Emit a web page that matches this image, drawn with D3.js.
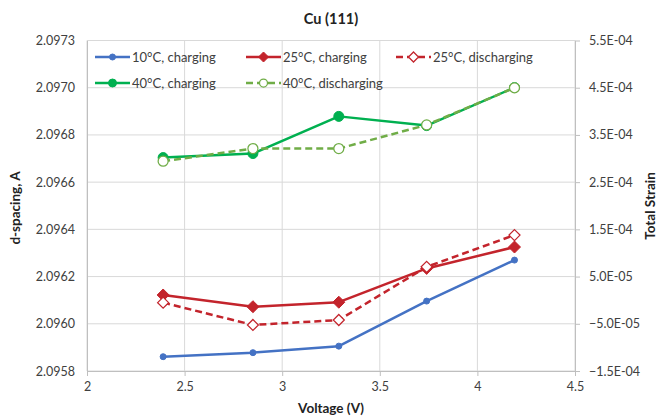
<!DOCTYPE html>
<html>
<head>
<meta charset="utf-8">
<script src="https://cdn.jsdelivr.net/npm/d3@7"></script>
<style>
  html, body { margin: 0; padding: 0; background: #fff; }
  svg { display: block; font-family: Lato, "Open Sans", sans-serif; }
</style>
</head>
<body>
<svg id="chart" width="658" height="418"></svg>
<script>
// Cu (111) d-spacing vs. voltage, with equivalent total strain on the right axis
const voltage = [2.39, 2.85, 3.29, 3.74, 4.19];

const d10Charge    = [2.095853, 2.095871, 2.095900, 2.096100, 2.096282];
const d25Charge    = [2.096127, 2.096075, 2.096095, 2.096245, 2.096340];
const d25Discharge = [2.096093, 2.095994, 2.096016, 2.096252, 2.096393];
const d40Charge    = [2.096737, 2.096755, 2.096920, 2.096879, 2.097048];
const d40Discharge = [2.096721, 2.096777, 2.096777, 2.096882, 2.097047];

// Unstrained reference spacing used to convert d-spacing to strain
const dRef = 2.096104;

const xTicks = [2, 2.5, 3, 3.5, 4, 4.5];
const strainTicks = [-1.5e-4, -5e-5, 5e-5, 1.5e-4, 2.5e-4, 3.5e-4, 4.5e-4, 5.5e-4];

const seriesNames = ["10°C, charging", "25°C, charging", "25°C, discharging",
                     "40°C, charging", "40°C, discharging"];

const series = [
  { name: seriesNames[0], values: d10Charge,    color: "#4472C4", dash: null,  marker: "circle",  r: 3,   open: false },
  { name: seriesNames[1], values: d25Charge,    color: "#C3242C", dash: null,  marker: "diamond", r: 6,   open: false },
  { name: seriesNames[2], values: d25Discharge, color: "#C3242C", dash: "7,4", marker: "diamond", r: 5.5, open: true  },
  { name: seriesNames[3], values: d40Charge,    color: "#00B050", dash: null,  marker: "circle",  r: 5,   open: false },
  { name: seriesNames[4], values: d40Discharge, color: "#70AD47", dash: "7,4", marker: "circle",  r: 5,   open: true  }
];

const svg = d3.select("#chart");
const plot = { left: 87, right: 575, top: 40.5, bottom: 371 };

const x = d3.scaleLinear().domain([2, 4.5]).range([plot.left, plot.right]);
const yStrain = d3.scaleLinear()
  .domain([strainTicks[0], strainTicks[strainTicks.length - 1]])
  .range([plot.bottom, plot.top]);
const y = d3.scaleLinear()
  .domain(yStrain.domain().map(s => dRef * (1 + s)))
  .range([plot.bottom, plot.top]);

// Excel-style scientific notation, e.g. 5.0E-05
function sci(v) {
  const [m, e] = d3.format(".1e")(v).split("e");
  const n = +e;
  return m + "E" + (n < 0 ? "-" : "+") + String(Math.abs(n)).padStart(2, "0");
}

const gridColor = "#d9d9d9";
const axisColor = "#bfbfbf";
const textColor = "#404040";

// Gridlines
svg.append("g").selectAll("line").data(strainTicks).join("line")
  .attr("x1", plot.left).attr("x2", plot.right)
  .attr("y1", d => yStrain(d)).attr("y2", d => yStrain(d))
  .attr("stroke", gridColor).attr("stroke-width", 1);
svg.append("g").selectAll("line").data(xTicks).join("line")
  .attr("x1", d => x(d)).attr("x2", d => x(d))
  .attr("y1", plot.top).attr("y2", plot.bottom)
  .attr("stroke", gridColor).attr("stroke-width", 1);

// Bottom axis
const xAxis = svg.append("g")
  .attr("transform", `translate(0,${plot.bottom})`)
  .call(d3.axisBottom(x).tickValues(xTicks).tickFormat(d3.format("")).tickSize(5).tickSizeOuter(0));
xAxis.select(".domain").attr("stroke", axisColor);
xAxis.selectAll(".tick line").attr("stroke", axisColor);
xAxis.selectAll(".tick text").attr("fill", textColor).attr("font-size", 12.5)
  .attr("font-family", "Lato, sans-serif").attr("dy", "0.95em");

// Left axis (d-spacing)
const yAxisL = svg.append("g")
  .attr("transform", `translate(${plot.left},0)`)
  .call(d3.axisLeft(y).tickValues(strainTicks.map(s => dRef * (1 + s)))
    .tickFormat(d3.format(".4f")).tickSize(0).tickPadding(12));
yAxisL.select(".domain").attr("stroke", axisColor);
yAxisL.selectAll(".tick text").attr("fill", textColor).attr("font-size", 12.5)
  .attr("font-family", "Lato, sans-serif");

// Right axis (strain)
const yAxisR = svg.append("g")
  .attr("transform", `translate(${plot.right},0)`)
  .call(d3.axisRight(yStrain).tickValues(strainTicks).tickFormat(sci)
    .tickSize(5).tickSizeOuter(0).tickPadding(9));
yAxisR.select(".domain").attr("stroke", axisColor);
yAxisR.selectAll(".tick line").attr("stroke", axisColor);
yAxisR.selectAll(".tick text").attr("fill", textColor).attr("font-size", 12.5)
  .attr("font-family", "Lato, sans-serif");

// Titles
svg.append("text").attr("x", 331).attr("y", 24).attr("text-anchor", "middle")
  .attr("font-size", 14.5).attr("font-weight", "bold").attr("fill", "#222")
  .text("Cu (111)");
svg.append("text").attr("x", 331).attr("y", 413).attr("text-anchor", "middle")
  .attr("font-size", 13.5).attr("font-weight", "bold").attr("fill", "#222")
  .text("Voltage (V)");
svg.append("text").attr("transform", "translate(20,208) rotate(-90)")
  .attr("text-anchor", "middle").attr("font-size", 13.5).attr("font-weight", "bold")
  .attr("fill", "#222").text("d-spacing, A");
svg.append("text").attr("transform", "translate(655,206) rotate(-90)")
  .attr("text-anchor", "middle").attr("font-size", 13.5).attr("font-weight", "bold")
  .attr("fill", "#222").text("Total Strain");

// Marker drawing helper
function drawMarker(g, s, cx, cy) {
  const fill = s.open ? "#fff" : s.color;
  if (s.marker === "circle") {
    g.append("circle").attr("cx", cx).attr("cy", cy).attr("r", s.r)
      .attr("fill", fill).attr("stroke", s.color).attr("stroke-width", s.open ? 1.25 : 1);
  } else {
    const r = s.r;
    g.append("path")
      .attr("d", `M${cx},${cy - r}L${cx + r},${cy}L${cx},${cy + r}L${cx - r},${cy}Z`)
      .attr("fill", fill).attr("stroke", s.color).attr("stroke-width", s.open ? 1.25 : 1);
  }
}

// Series
const line = d3.line().x(d => x(d[0])).y(d => y(d[1]));
series.forEach(s => {
  const g = svg.append("g");
  const pts = voltage.map((v, i) => [v, s.values[i]]);
  g.append("path").datum(pts).attr("d", line)
    .attr("fill", "none").attr("stroke", s.color).attr("stroke-width", 2.5)
    .attr("stroke-dasharray", s.dash).attr("stroke-linejoin", "round");
  pts.forEach(p => drawMarker(g, s, x(p[0]), y(p[1])));
});

// Legend
const legendCols = [95, 246, 396];
const legendRows = [57, 83];
series.forEach((s, i) => {
  const lx = legendCols[i % 3], ly = legendRows[Math.floor(i / 3)];
  const g = svg.append("g");
  g.append("line").attr("x1", lx).attr("x2", lx + 35).attr("y1", ly).attr("y2", ly)
    .attr("stroke", s.color).attr("stroke-width", 2.5).attr("stroke-dasharray", s.dash);
  drawMarker(g, Object.assign({}, s, { r: s.marker === "diamond" ? 5 : (s.r > 3 ? 4 : 3) }), lx + 17.5, ly);
  g.append("text").attr("x", lx + 37).attr("y", ly).attr("dy", "0.35em")
    .attr("font-size", 13).attr("fill", textColor).text(s.name);
});
</script>
</body>
</html>
